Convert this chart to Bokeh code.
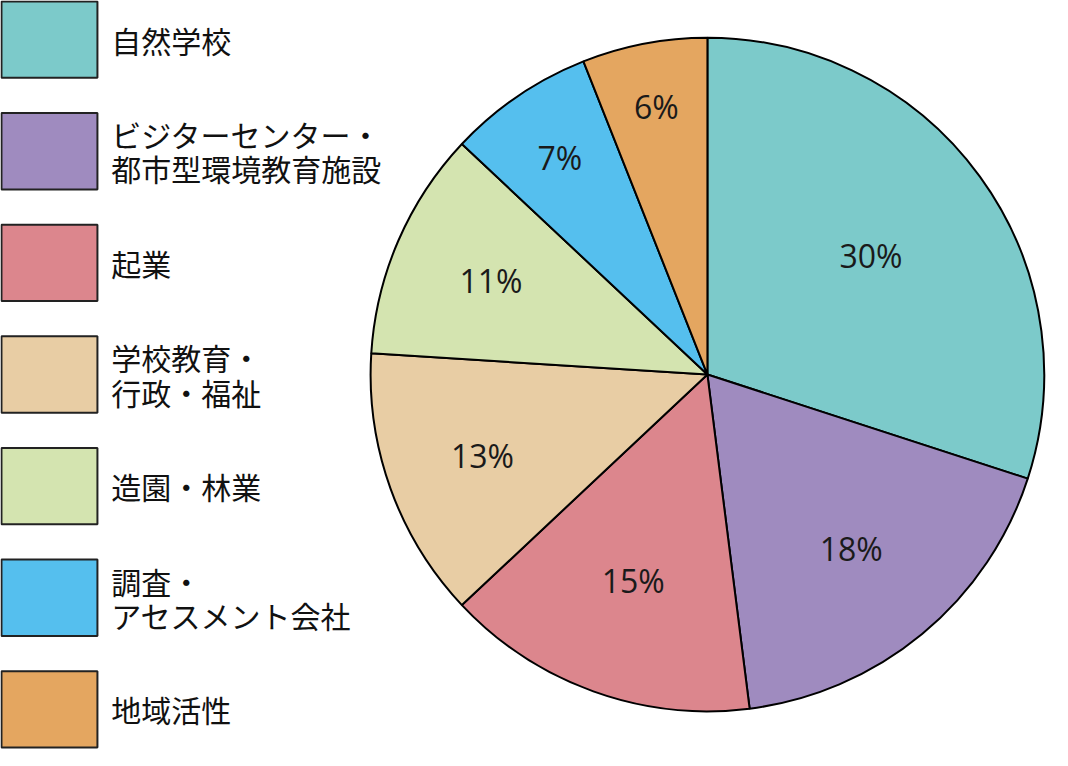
import math
from bokeh.plotting import figure
from bokeh.models import Range1d, ColumnDataSource
from bokeh.core.properties import value
from bokeh.embed import file_html
from bokeh.resources import INLINE

# ---- data ----
categories = ["自然学校", "ビジターセンター・\n都市型環境教育施設", "起業", "学校教育・\n行政・福祉",
              "造園・林業", "調査・\nアセスメント会社", "地域活性"]
shares = [30, 18, 15, 13, 11, 7, 6]
colors = ["#7ccaca", "#9f8bbf", "#dc868d", "#e8cda4", "#d4e4b0", "#55bfee", "#e4a660"]
label_r = [0.60, 0.67, 0.65, 0.71, 0.70, 0.78, 0.81]   # label distance (fraction of radius)

# ---- layout (reference pixel units) ----
W, H = 1052, 750
S = H / 766.0
p = figure(width=W, height=H, output_backend="svg", toolbar_location=None,
           x_range=Range1d(0, W / S), y_range=Range1d(0, 766),
           x_axis_location=None, y_axis_location=None, min_border=0)
p.grid.visible = False
p.outline_line_color = None
p.background_fill_color = "white"

cx, cy, R = 722, 766 - 382, 344
total = float(sum(shares))
starts, ends, lx, ly, ltxt = [], [], [], [], []
cum = 0.0
for i, s in enumerate(shares):
    a0 = math.pi / 2 - 2 * math.pi * cum / total
    cum += s
    a1 = math.pi / 2 - 2 * math.pi * cum / total
    starts.append(a0)
    ends.append(a1)
    mid = (a0 + a1) / 2
    lx.append(cx + label_r[i] * R * math.cos(mid))
    ly.append(cy + label_r[i] * R * math.sin(mid))
    ltxt.append(f"{s}%")

src = ColumnDataSource(dict(start=starts, end=ends, color=colors))
p.wedge(x=cx, y=cy, radius=R, start_angle="start", end_angle="end", direction="clock",
        fill_color="color", line_color="black", line_width=2, source=src)

p.text(x=lx, y=ly, text=ltxt, text_align="center", text_baseline="middle",
       text_font=value("Open Sans"), text_font_size="32px", text_color="#1a1a1a")

# ---- legend ----
box_cy = [766 - (40 + 114 * i) for i in range(len(categories))]
p.rect(x=[50] * len(categories), y=box_cy, width=98, height=78, fill_color=colors,
       line_color="#222222", line_width=2)
tx, ty, tt = [], [], []
for c, yc in zip(categories, box_cy):
    lines = c.split("\n")
    n = len(lines)
    for j, ln in enumerate(lines):
        tx.append(113)
        ty.append(yc + (n - 1) * 17.5 - j * 35)
        tt.append(ln)
p.text(x=tx, y=ty, text=tt, text_align="left", text_baseline="middle",
       text_font=value("Noto Sans CJK JP"), text_font_size="30px", text_color="#111111")

open("out.html", "w").write(file_html(p, INLINE))
